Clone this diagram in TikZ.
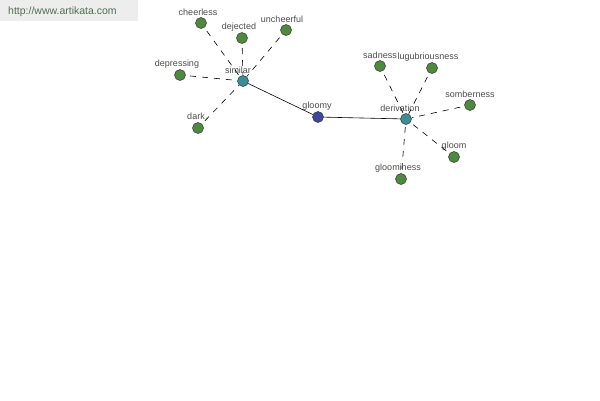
\documentclass[tikz,border=0pt]{standalone}
\usepackage{fontspec}
\setmainfont{Liberation Sans}
\begin{document}
\begin{tikzpicture}[x=1pt,y=-1pt,
  dot/.style={circle,draw=black!80,line width=0.5pt,minimum size=11pt,inner sep=0pt},
  leaf/.style={dot,fill=leafgreen},
  hub/.style={dot,fill=hubteal},
  core/.style={dot,fill=corenavy},
  lbl/.style={font=\fontsize{9}{10}\selectfont,text=black!70,inner sep=0pt},
  rel/.style={dashed,dash pattern=on 6pt off 6pt,line width=0.6pt,shorten <=10pt,shorten >=6pt},
  link/.style={line width=0.6pt}]
\definecolor{leafgreen}{RGB}{78,138,62}
\definecolor{hubteal}{RGB}{58,142,150}
\definecolor{corenavy}{RGB}{62,72,150}
\useasboundingbox (0,0) rectangle (600,400);
\fill[black!7] (0,0) rectangle (138,21);
\node[font=\fontsize{10.5}{12}\selectfont,text={rgb,255:red,80;green,110;blue,80},anchor=west,inner sep=0pt] (url) at (8,12) {http://www.artikata.com};
% hubs
\node[hub] (similar) at (243,81) {};
\node[core] (gloomy) at (318,117) {};
\node[hub] (derivation) at (406,119) {};
% leaves
\node[leaf] (cheerless) at (201,23) {};
\node[leaf] (dejected) at (242,38) {};
\node[leaf] (uncheerful) at (286,30) {};
\node[leaf] (depressing) at (180,75) {};
\node[leaf] (dark) at (198,128) {};
\node[leaf] (sadness) at (380,66) {};
\node[leaf] (lugubriousness) at (432,68) {};
\node[leaf] (somberness) at (470,105) {};
\node[leaf] (gloom) at (454,157) {};
\node[leaf] (gloominess) at (401,179) {};
% labels
\node[lbl] (l-similar) at (238,70) {similar};
\node[lbl] (l-gloomy) at (317,106) {gloomy};
\node[lbl] (l-derivation) at (400,108) {derivation};
\node[lbl] (l-cheerless) at (198,12) {cheerless};
\node[lbl] (l-dejected) at (239,27) {dejected};
\node[lbl] (l-uncheerful) at (282,19) {uncheerful};
\node[lbl] (l-depressing) at (177,64) {depressing};
\node[lbl] (l-dark) at (196,116) {dark};
\node[lbl] (l-sadness) at (380,55) {sadness};
\node[lbl] (l-lugubriousness) at (428,57) {lugubriousness};
\node[lbl] (l-somberness) at (470,94) {somberness};
\node[lbl] (l-gloom) at (454,146) {gloom};
\node[lbl] (l-gloominess) at (398,168) {gloominess};
% connectors
\draw[link] (similar) -- (gloomy);
\draw[link] (gloomy) -- (derivation);
\foreach \n in {cheerless,dejected,uncheerful,depressing,dark}
  \draw[rel] (\n.center) -- (similar.center);
\foreach \n in {sadness,lugubriousness,somberness,gloom,gloominess}
  \draw[rel] (\n.center) -- (derivation.center);
\end{tikzpicture}
\end{document}
